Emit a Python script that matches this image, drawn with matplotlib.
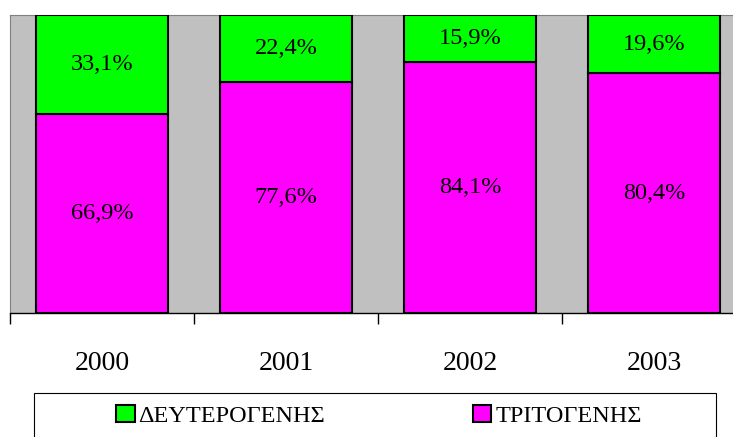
import matplotlib.pyplot as plt
import matplotlib.patches as patches

years = ['2000', '2001', '2002', '2003']
tritogenis = [66.9, 77.6, 84.1, 80.4]
defterogenis = [33.1, 22.4, 15.9, 19.6]
series_names = ['ΔΕΥΤΕΡΟΓΕΝΗΣ', 'ΤΡΙΤΟΓΕΝΗΣ']

plt.rcParams['font.family'] = ['Liberation Serif', 'DejaVu Serif']

W, H = 733, 437
fig = plt.figure(figsize=(W / 100, H / 100), dpi=100)
# plot area runs slightly past the right edge of the picture
ax = fig.add_axes([10 / W, 124 / H, 736 / W, 298 / H])
ax.set_facecolor('#C0C0C0')

x = range(len(years))
b1 = ax.bar(x, tritogenis, width=0.72, color='#FF00FF', edgecolor='black', linewidth=1.5,
            label=series_names[1], zorder=3)
b2 = ax.bar(x, defterogenis, width=0.72, bottom=tritogenis, color='#00FF00', edgecolor='black',
            linewidth=1.5, label=series_names[0], zorder=3)

for bars in (b1, b2):
    ax.bar_label(bars, labels=[f'{v:.1f}%'.replace('.', ',') for v in bars.datavalues],
                 label_type='center', fontsize=17.5)

ax.set_xlim(-0.5, len(years) - 0.5)
ax.set_ylim(0, 100)
ax.set_yticks([])

# ticks at category boundaries, labels at the centres
ax.set_xticks([i - 0.5 for i in range(len(years) + 1)])
ax.set_xticklabels([])
ax.tick_params(axis='x', which='major', length=8, width=1, direction='out')
ax.set_xticks(list(x), minor=True)
ax.set_xticklabels(years, minor=True, fontsize=20)
ax.tick_params(axis='x', which='minor', length=0, pad=27)

for s in ('left', 'top', 'right'):
    ax.spines[s].set_color('#808080')
    ax.spines[s].set_linewidth(0.8)
ax.spines['bottom'].set_color('black')
ax.spines['bottom'].set_linewidth(1)

# legend box, runs past the bottom of the picture
fig.patches.append(patches.Rectangle((34 / W, -10 / H), 682 / W, 54 / H, transform=fig.transFigure,
                                     facecolor='white', edgecolor='black', linewidth=0.8))
handles = [b2, b1]
fig.legend(handles, series_names, loc='center', bbox_to_anchor=(379 / W, 1 - 416 / H), ncol=2,
           frameon=False, fontsize=17.5, handlelength=0.75, handleheight=0.7, handletextpad=0.15,
           columnspacing=6.1, borderpad=0, borderaxespad=0)

fig.savefig('out.png', dpi=100)
